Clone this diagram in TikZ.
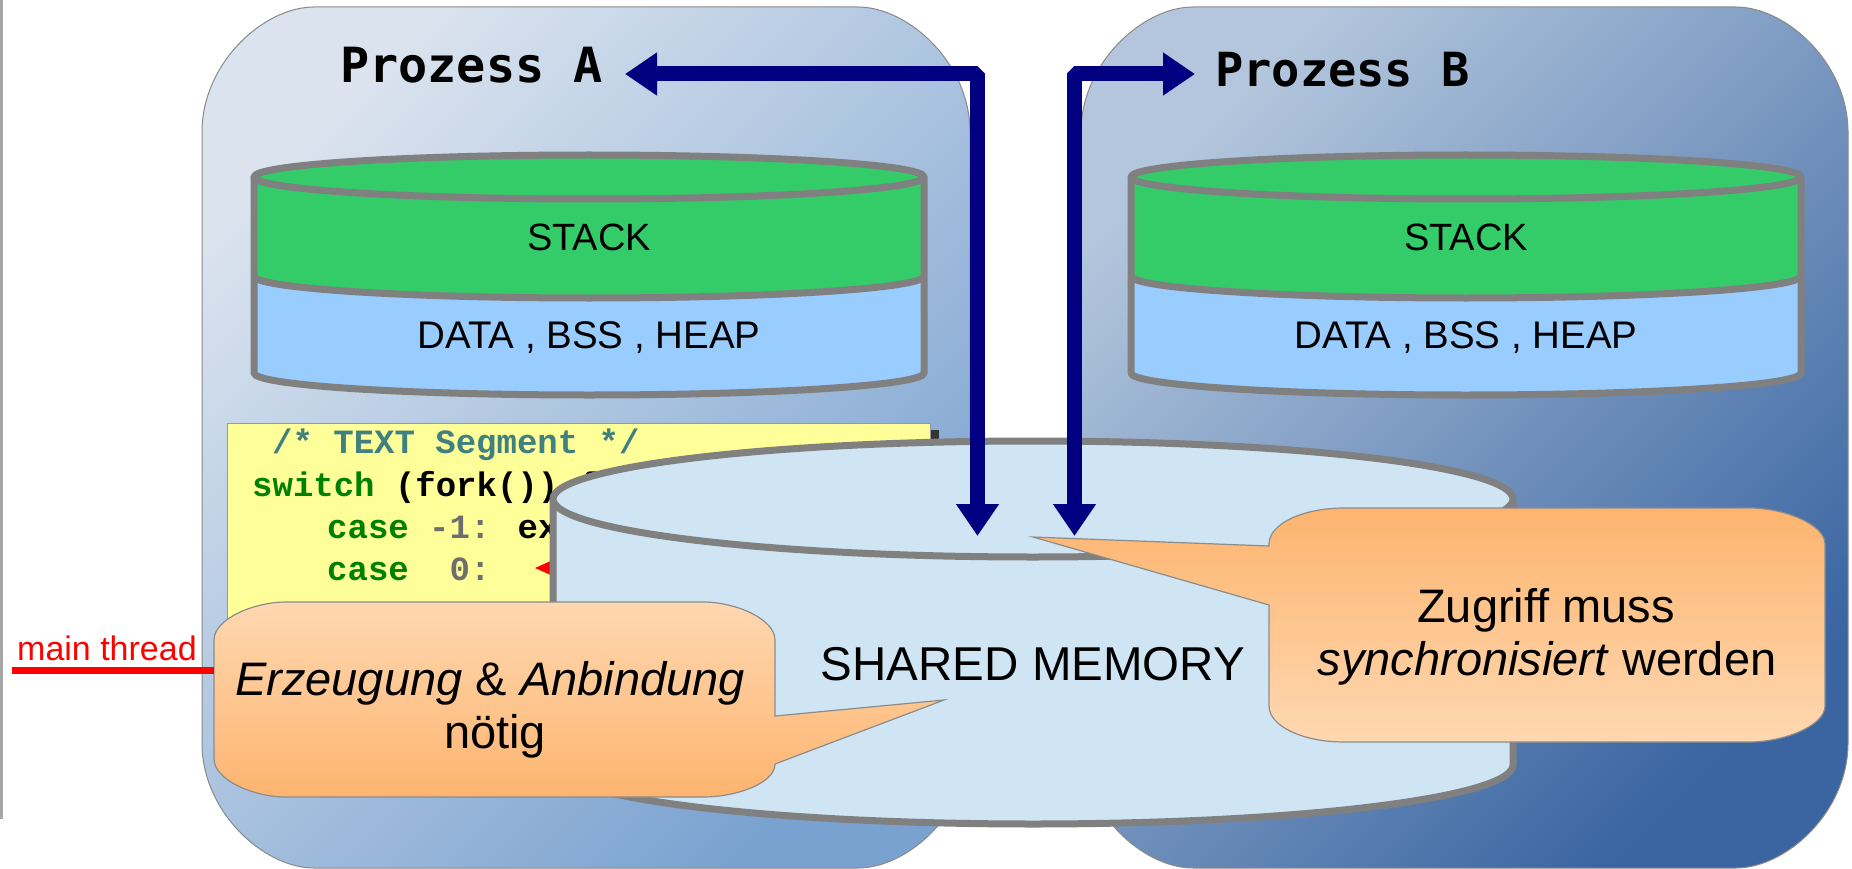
\documentclass[tikz,border=0pt]{standalone}
\usepackage{fontspec}
\setmainfont{Liberation Sans}
\newfontfamily\hdfont{DejaVu Sans Mono}
\newfontfamily\codefont{Liberation Mono}
\usetikzlibrary{arrows.meta}
\definecolor{boxAtl}{HTML}{DAE3EE}
\definecolor{boxAbr}{HTML}{7AA2D0}
\definecolor{boxBtl}{HTML}{B3C6DD}
\definecolor{boxBbr}{HTML}{3A65A1}
\definecolor{boxline}{HTML}{8A8A8A}
\definecolor{stackgreen}{HTML}{34CB69}
\definecolor{memblue}{HTML}{99CCFF}
\definecolor{cylgray}{HTML}{808080}
\definecolor{sharedblue}{HTML}{CFE5F3}
\definecolor{navyblue}{HTML}{000080}
\definecolor{codeyellow}{HTML}{FFFF99}
\definecolor{cmtteal}{HTML}{408080}
\definecolor{kwgreen}{HTML}{008000}
\definecolor{numgray}{HTML}{6E6E6E}
\definecolor{orlight}{HTML}{FED8B1}
\definecolor{ordark}{HTML}{FDB46F}
\definecolor{calline}{HTML}{8C8C8C}
\definecolor{leftgray}{HTML}{A6A6A6}
\newcommand{\fsz}[1]{\fontsize{#1}{#1}\selectfont}
\tikzset{
  procbox/.style={draw=boxline, line width=1pt},
  cylline/.style={draw=cylgray, line width=7pt, line join=round},
  navyarrow/.style={draw=navyblue, line width=15pt, line join=bevel,
    {Triangle[width=41pt,length=32pt,fill=navyblue]}-{Triangle[width=41pt,length=32pt,fill=navyblue]}},
  callout/.style={draw=calline, line width=1.2pt},
  lbl/.style={inner sep=0pt, anchor=base},
  codeline/.style={inner sep=0pt, anchor=base west, font=\codefont\bfseries\fsz{34}},
}
\begin{document}
\begin{tikzpicture}[x=1pt,y=-1pt]
\useasboundingbox[fill=white] (0,0) rectangle (1852,869);

% process boxes
\path[procbox, top color=boxAtl, bottom color=boxAbr, shading angle=45]
  (314,7) -- (858,7) .. controls (908.2,7) and (970,63) .. (970,132)
  -- (970,743) .. controls (970,812) and (908.2,868) .. (858,868)
  -- (314,868) .. controls (263.8,868) and (202,812) .. (202,743)
  -- (202,132) .. controls (202,63) and (263.8,7) .. cycle;
\path[procbox, top color=boxBtl, bottom color=boxBbr, shading angle=45]
  (1193,7) -- (1736,7) .. controls (1786.2,7) and (1848,63) .. (1848,132)
  -- (1848,743) .. controls (1848,812) and (1786.2,868) .. (1736,868)
  -- (1193,868) .. controls (1142.8,868) and (1081,812) .. (1081,743)
  -- (1081,132) .. controls (1081,63) and (1142.8,7) .. cycle;

\node[lbl, anchor=base west, font=\hdfont\bfseries\fsz{48.5}] (pa) at (340,83) {Prozess A};
\node[lbl, anchor=base west, font=\hdfont\bfseries\fsz{47}] (pb) at (1215,87) {Prozess B};

% stack cylinders
\foreach \cx/\nm in {589/A,1466/B}{
  \fill[memblue] (\cx-335,276) -- (\cx-335,373) arc[start angle=180,end angle=0,x radius=335,y radius=22] -- (\cx+335,276) -- cycle;
  \fill[stackgreen] (\cx-335,177) -- (\cx-335,276) arc[start angle=180,end angle=0,x radius=335,y radius=22] -- (\cx+335,177) -- cycle;
  \draw[cylline] (\cx-335,276) arc[start angle=180,end angle=0,x radius=335,y radius=22];
  \draw[cylline] (\cx-335,177) -- (\cx-335,373) arc[start angle=180,end angle=0,x radius=335,y radius=22] -- (\cx+335,177);
  \draw[cylline, fill=stackgreen] (\cx,177) ellipse[x radius=335, y radius=22];
  \node[lbl, font=\fsz{38}] (stack\nm) at (\cx,250) {STACK};
  \node[lbl, font=\fsz{38.5}] (data\nm) at (\cx,348) {DATA , BSS , HEAP};
}

% code box
\fill[black!80] (236,430) rectangle (939,690);
\draw[fill=codeyellow, draw=gray!80, line width=0.8pt] (227,423) rectangle (930,683);
\node[codeline] (c1) at (272,453) {\color{cmtteal}/* TEXT Segment */};
\node[codeline] (c2) at (252,496) {\color{kwgreen}switch \color{black}(fork()) \{};
\node[codeline] (c3) at (327,538) {\color{kwgreen}case \color{numgray}-1: \color{black}ex};
\node[codeline] (c4) at (327,580) {\color{kwgreen}case\ \ \color{numgray}0:};
\fill[red] (535,568) -- (553,560) -- (553,576) -- cycle;

% shared memory cylinder
\draw[cylline, fill=sharedblue] (553,499) -- (553,765) arc[start angle=180,end angle=0,x radius=480,y radius=59] -- (1513,499);
\draw[cylline, fill=sharedblue] (1033,499) ellipse[x radius=480, y radius=58];
\node[lbl, font=\fsz{47.5}] (shm) at (1033,680) {SHARED MEMORY};

% arrows
\coordinate (tipA) at (625,74);
\coordinate (tipAdown) at (977.5,536);
\coordinate (tipB) at (1195,74);
\coordinate (tipBdown) at (1074.5,536);
\draw[navyarrow] (tipA) -- (tipA -| tipAdown) -- (tipAdown);
\draw[navyarrow] (tipBdown) -- (tipBdown |- tipB) -- (tipB);

% callout left
\path[callout, top color=orlight, bottom color=ordark]
  (286,602) -- (703,602) .. controls (735.7,602) and (775,619) .. (775,640)
  -- (775,716) -- (944,700) -- (775,764)
  .. controls (775,783) and (737,797) .. (703,797)
  -- (286,797) .. controls (253.7,797) and (214,780) .. (214,759)
  -- (214,640) .. controls (214,619) and (253.7,602) .. cycle;
\node[lbl, font=\fsz{47}] (e1) at (490,695) {\textit{Erzeugung} \& \textit{Anbindung}};
\node[lbl, font=\fsz{47}] (e2) at (495,748) {nötig};

% callout right
\path[callout, top color=ordark, bottom color=orlight]
  (1344,508) -- (1750,508) .. controls (1783.4,508) and (1825,524.1) .. (1825,544)
  -- (1825,706) .. controls (1825,725.9) and (1783.4,742) .. (1750,742)
  -- (1344,742) .. controls (1302.4,742) and (1269,725.9) .. (1269,706)
  -- (1269,605) -- (1033,537) -- (1269,546)
  -- (1269,544) .. controls (1269,524.1) and (1302.4,508) .. cycle;
\node[lbl, font=\fsz{47}] (z1) at (1546,622) {Zugriff muss};
\node[lbl, font=\fsz{47}] (z2) at (1547,675) {\textit{synchronisiert} werden};

% main thread
\node[lbl, anchor=base west, font=\fsz{34}, text=red] (mt) at (17,660) {main thread};
\coordinate (mtStart) at (12,670);
\coordinate (mtEnd) at (214,670);
\draw[red, line width=7pt] (mtStart) -- (mtEnd);

% left border line
\draw[leftgray, line width=3pt] (1.5,0) -- (1.5,819);
\end{tikzpicture}
\end{document}
